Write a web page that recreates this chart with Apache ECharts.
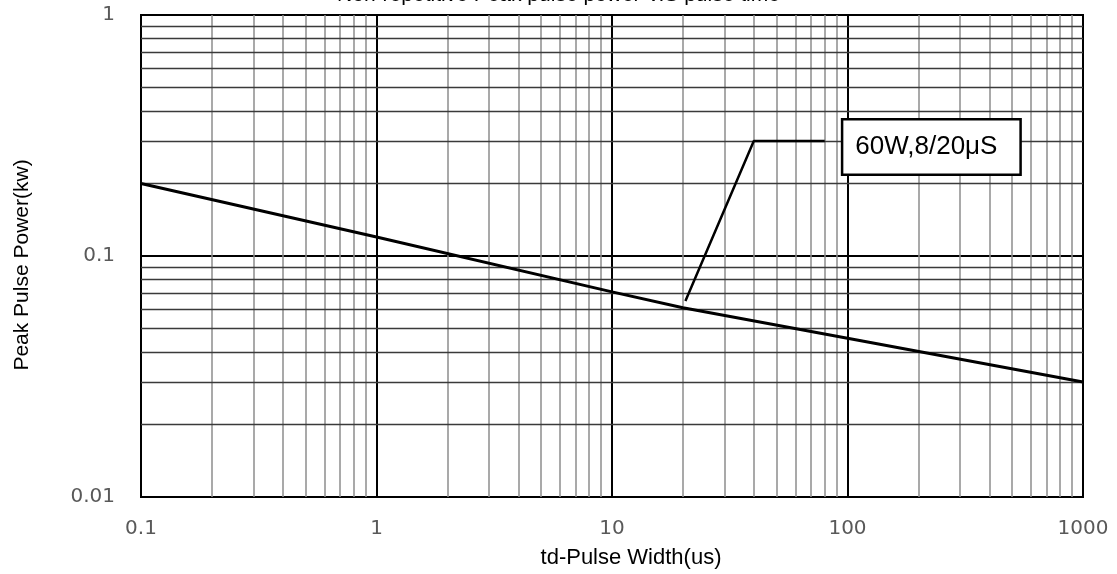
<!DOCTYPE html>
<html>
<head>
<meta charset="utf-8">
<script src="https://cdn.jsdelivr.net/npm/echarts@6/dist/echarts.min.js"></script>
<style>
html,body{margin:0;padding:0;background:#fff;}
#chart{width:1117px;height:574px;}
</style>
</head>
<body>
<div id="chart"></div>
<script>
// ---- data ----
var titleText = 'Non-repetitive Peak pulse power V.S pulse time';
var xAxisName = 'td-Pulse Width(us)';
var yAxisName = 'Peak Pulse Power(kw)';
var xTickLabels = ['0.1', '1', '10', '100', '1000'];
var yTickLabels = ['0.01', '0.1', '1'];
// curve: pulse width (us) vs peak pulse power (kW)
var pulseWidth = [0.1, 1, 10, 20, 100, 1000];
var peakPower = [0.2, 0.12, 0.071, 0.061, 0.0456, 0.03];
// annotation leader line
var leaderX = [20.5, 40, 80];
var leaderY = [0.065, 0.3, 0.3];
var annotationText = '60W,8/20μS';
var annotationAt = [227, 0.283];
// minor grid values
var xMinorGrid = [0.2,0.3,0.4,0.5,0.6,0.7,0.8,0.9, 2,3,4,5,6,7,8,9, 20,30,40,50,60,70,80,90, 200,300,400,500,600,700,800,900];
var yMinorGrid = [0.02,0.03,0.04,0.05,0.06,0.07,0.08,0.09, 0.2,0.3,0.4,0.5,0.6,0.7,0.8,0.9];

var curve = pulseWidth.map(function(x, i){ return [x, peakPower[i]]; });
var leader = leaderX.map(function(x, i){ return [x, leaderY[i]]; });

function labelFor(list, v){
  for (var i = 0; i < list.length; i++) {
    if (Math.abs(Math.log10(parseFloat(list[i])) - Math.log10(v)) < 1e-6) return list[i];
  }
  return '';
}

var gridLines = [];
xMinorGrid.forEach(function(v){ gridLines.push({xAxis: v, lineStyle:{color:'#8c8c8c', width:1.5, type:'solid'}}); });
yMinorGrid.forEach(function(v){ gridLines.push({yAxis: v, lineStyle:{color:'#3a3a3a', width:1.3, type:'solid'}}); });

var chart = echarts.init(document.getElementById('chart'), null, {renderer:'canvas'});
chart.setOption({
  animation: false,
  backgroundColor: '#fff',
  title: {
    text: titleText,
    left: 'center',
    top: -15,
    padding: 0,
    textStyle: {fontFamily: 'Liberation Sans, Arial', fontSize: 21, fontWeight: 'normal', color: '#000'}
  },
  grid: {
    left: 141, right: 34, top: 15, bottom: 77,
    show: true, borderColor: '#000', borderWidth: 2, backgroundColor: 'transparent'
  },
  xAxis: {
    type: 'log', logBase: 10, min: 0.1, max: 1000,
    name: xAxisName, nameLocation: 'middle', nameGap: 50,
    nameTextStyle: {fontFamily: 'Liberation Sans, Arial', fontSize: 22, color: '#000', padding: [0,0,0,38]},
    axisLine: {show: true, lineStyle: {color: '#000', width: 2}},
    axisTick: {show: false},
    axisLabel: {
      margin: 22, fontFamily: 'DejaVu Sans', fontSize: 20, color: '#595959',
      formatter: function(v){ return labelFor(xTickLabels, v); }
    },
    splitLine: {show: true, lineStyle: {color: '#000', width: 2}},
    minorTick: {show: false}, minorSplitLine: {show: false}
  },
  yAxis: {
    type: 'log', logBase: 10, min: 0.01, max: 1,
    name: yAxisName, nameLocation: 'middle', nameGap: 108, nameRotate: 90,
    nameTextStyle: {fontFamily: 'Liberation Sans, Arial', fontSize: 21, color: '#000', padding: [0,18,0,0]},
    axisLine: {show: true, lineStyle: {color: '#000', width: 2}},
    axisTick: {show: false},
    axisLabel: {
      margin: 26, fontFamily: 'DejaVu Sans', fontSize: 20, color: '#595959',
      formatter: function(v){ return labelFor(yTickLabels, v); }
    },
    splitLine: {show: true, lineStyle: {color: '#000', width: 2}}
  },
  series: [
    {
      type: 'line', data: [], z: 1, silent: true,
      markLine: {silent: true, symbol: ['none','none'], label: {show: false}, animation: false, data: gridLines}
    },
    {
      type: 'line', data: curve, z: 5, symbol: 'none', silent: true,
      lineStyle: {color: '#000', width: 3}
    },
    {
      type: 'line', data: leader, z: 5, symbol: 'none', silent: true,
      lineStyle: {color: '#000', width: 2.5},
      markPoint: {
        silent: true, symbol: 'rect', symbolSize: 1, itemStyle: {color: 'transparent'},
        data: [{coord: annotationAt, value: annotationText}],
        label: {
          show: true, position: 'inside', formatter: annotationText,
          fontFamily: 'Liberation Sans, Arial', fontSize: 26, color: '#000',
          backgroundColor: '#fff', borderColor: '#000', borderWidth: 2.5,
          padding: [13, 20, 14, 10], width: 146
        }
      }
    }
  ]
});
</script>
</body>
</html>
